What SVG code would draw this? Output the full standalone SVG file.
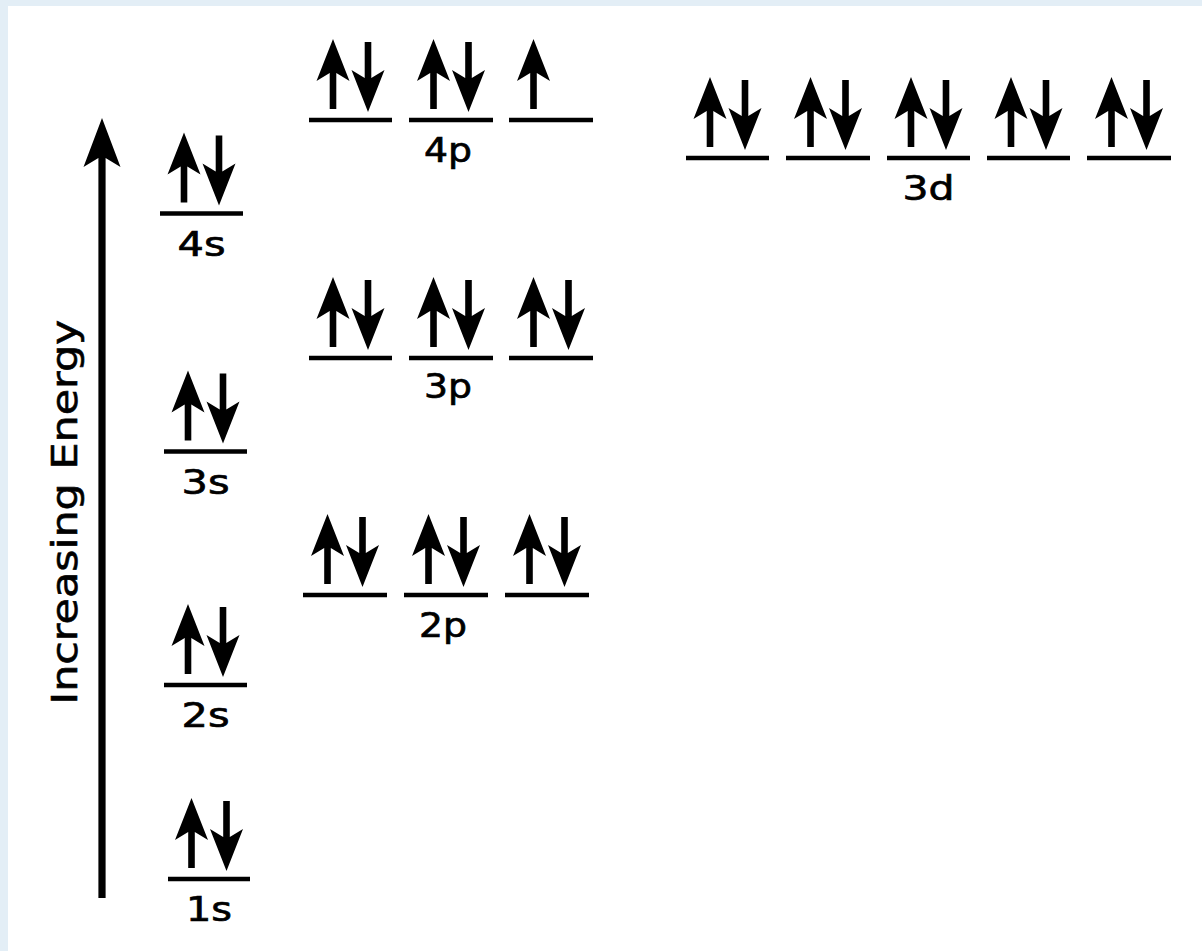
<svg xmlns="http://www.w3.org/2000/svg" xmlns:xlink="http://www.w3.org/1999/xlink" width="1202" height="951" viewBox="0 0 1202 951">
  <style>
    .lvl { stroke: #000; stroke-width: 4.6; }
    .lbl { font-family: "DejaVu Sans", "Liberation Sans", sans-serif; font-size: 34px; fill: #000; stroke: #000; stroke-width: 0.7; text-anchor: middle; }
    .axis-lbl { font-family: "DejaVu Sans", "Liberation Sans", sans-serif; font-size: 36px; fill: #000; stroke: #000; stroke-width: 0.6; text-anchor: middle; }
  </style>
  <defs>
    <path id="upArrow" d="M0,0 L16.5,42 L3.3,34 L3.3,70 L-3.3,70 L-3.3,34 L-16.5,42 Z" fill="#000"/>
    <g id="pair">
      <use href="#upArrow" xlink:href="#upArrow" transform="translate(-17.5,-81)"/>
      <use href="#upArrow" xlink:href="#upArrow" transform="translate(17.5,-8) scale(1,-1)"/>
    </g>
    <g id="single">
      <use href="#upArrow" xlink:href="#upArrow" transform="translate(-17.5,-81)"/>
    </g>
  </defs>
  <rect x="0" y="0" width="1202" height="951" fill="#ffffff"/>
  <rect x="0" y="0" width="1202" height="6" fill="#e3eef6"/>
  <rect x="0" y="0" width="8" height="951" fill="#e3eef6"/>

  <g id="connectors">
    <path id="energy-axis" d="M102,118 L120.5,167 L105.6,158 L105.6,898 L98.4,898 L98.4,158 L83.5,167 Z" fill="#000"/>
  </g>

  <g id="axis-label">
    <text class="axis-lbl" transform="translate(77,512) rotate(-90)" textLength="385" lengthAdjust="spacingAndGlyphs">Increasing Energy</text>
  </g>

  <g id="orbital-1s">
    <line class="lvl" x1="168" y1="879" x2="250" y2="879"/>
    <use href="#pair" xlink:href="#pair" x="209" y="879"/>
    <text class="lbl" x="209" y="921" textLength="46" lengthAdjust="spacingAndGlyphs">1s</text>
  </g>
  <g id="orbital-2s">
    <line class="lvl" x1="164" y1="685" x2="247" y2="685"/>
    <use href="#pair" xlink:href="#pair" x="205.5" y="685"/>
    <text class="lbl" x="205.5" y="727" textLength="48" lengthAdjust="spacingAndGlyphs">2s</text>
  </g>
  <g id="orbital-3s">
    <line class="lvl" x1="164" y1="451.5" x2="247" y2="451.5"/>
    <use href="#pair" xlink:href="#pair" x="205.5" y="451.5"/>
    <text class="lbl" x="205.5" y="493.5" textLength="48" lengthAdjust="spacingAndGlyphs">3s</text>
  </g>
  <g id="orbital-4s">
    <line class="lvl" x1="160" y1="213.5" x2="243" y2="213.5"/>
    <use href="#pair" xlink:href="#pair" x="201.5" y="213.5"/>
    <text class="lbl" x="201.5" y="255.5" textLength="48" lengthAdjust="spacingAndGlyphs">4s</text>
  </g>

  <g id="orbital-2p">
    <line class="lvl" x1="303" y1="595" x2="387" y2="595"/>
    <line class="lvl" x1="404" y1="595" x2="488" y2="595"/>
    <line class="lvl" x1="505" y1="595" x2="589" y2="595"/>
    <use href="#pair" xlink:href="#pair" x="345" y="595"/>
    <use href="#pair" xlink:href="#pair" x="446" y="595"/>
    <use href="#pair" xlink:href="#pair" x="547" y="595"/>
    <text class="lbl" x="443" y="637" textLength="48" lengthAdjust="spacingAndGlyphs">2p</text>
  </g>
  <g id="orbital-3p">
    <line class="lvl" x1="309" y1="358" x2="392" y2="358"/>
    <line class="lvl" x1="409" y1="358" x2="493" y2="358"/>
    <line class="lvl" x1="509" y1="358" x2="593" y2="358"/>
    <use href="#pair" xlink:href="#pair" x="350.5" y="358"/>
    <use href="#pair" xlink:href="#pair" x="451" y="358"/>
    <use href="#pair" xlink:href="#pair" x="551" y="358"/>
    <text class="lbl" x="448" y="398" textLength="48" lengthAdjust="spacingAndGlyphs">3p</text>
  </g>
  <g id="orbital-4p">
    <line class="lvl" x1="309" y1="120" x2="392" y2="120"/>
    <line class="lvl" x1="409" y1="120" x2="493" y2="120"/>
    <line class="lvl" x1="509" y1="120" x2="593" y2="120"/>
    <use href="#pair" xlink:href="#pair" x="350.5" y="120"/>
    <use href="#pair" xlink:href="#pair" x="451" y="120"/>
    <use href="#single" xlink:href="#single" x="551" y="120"/>
    <text class="lbl" x="448" y="162" textLength="48" lengthAdjust="spacingAndGlyphs">4p</text>
  </g>
  <g id="orbital-3d">
    <line class="lvl" x1="686" y1="158" x2="769" y2="158"/>
    <line class="lvl" x1="786" y1="158" x2="870" y2="158"/>
    <line class="lvl" x1="887" y1="158" x2="970" y2="158"/>
    <line class="lvl" x1="987" y1="158" x2="1070" y2="158"/>
    <line class="lvl" x1="1087" y1="158" x2="1171" y2="158"/>
    <use href="#pair" xlink:href="#pair" x="727.5" y="158"/>
    <use href="#pair" xlink:href="#pair" x="828" y="158"/>
    <use href="#pair" xlink:href="#pair" x="928.5" y="158"/>
    <use href="#pair" xlink:href="#pair" x="1028.5" y="158"/>
    <use href="#pair" xlink:href="#pair" x="1129" y="158"/>
    <text class="lbl" x="928.5" y="200" textLength="52" lengthAdjust="spacingAndGlyphs">3d</text>
  </g>
</svg>
